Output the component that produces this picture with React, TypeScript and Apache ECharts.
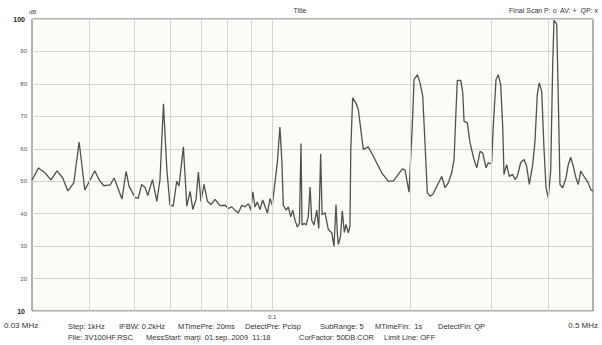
import React, { useEffect, useRef } from "react";
import * as echarts from "echarts";

const freqMHz = [
  0.03, 0.031, 0.032, 0.033, 0.034, 0.035, 0.0359, 0.037, 0.038, 0.0391,
  0.0411, 0.042, 0.043, 0.0444, 0.0453, 0.0471, 0.0481, 0.0488, 0.0503, 0.0511,
  0.052, 0.0529, 0.0536, 0.0549, 0.0561, 0.057, 0.058, 0.059, 0.0599, 0.0609,
  0.062, 0.0627, 0.0641, 0.0652, 0.0663, 0.0672, 0.0683, 0.0691, 0.07, 0.0711,
  0.0723, 0.0736, 0.0751, 0.077, 0.079, 0.0803, 0.0817, 0.083, 0.0844, 0.0859,
  0.0873, 0.0888, 0.0899, 0.0908, 0.0918, 0.0929, 0.0941, 0.0954, 0.0965, 0.0977,
  0.099, 0.1001, 0.1015, 0.1027, 0.104, 0.105, 0.1058, 0.1073, 0.1085, 0.1098,
  0.1109, 0.1122, 0.1135, 0.1147, 0.1156, 0.1162, 0.1176, 0.1186, 0.1199, 0.121,
  0.122, 0.1234, 0.1251, 0.1264, 0.1276, 0.1285, 0.1304, 0.1326, 0.1349, 0.1364,
  0.1378, 0.1387, 0.1394, 0.141, 0.1422, 0.1437, 0.1449, 0.1466, 0.1478, 0.1484,
  0.1498, 0.1523, 0.1541, 0.158, 0.162, 0.1662, 0.1733, 0.1791, 0.1837, 0.1883,
  0.1922, 0.1948, 0.1987, 0.202, 0.2038, 0.2072, 0.21, 0.2129, 0.2153, 0.2178,
  0.2208, 0.2238, 0.2276, 0.2314, 0.2342, 0.2381, 0.242, 0.2462, 0.2491, 0.2516,
  0.2532, 0.2576, 0.2602, 0.2619, 0.2662, 0.2699, 0.2753, 0.2791, 0.2838, 0.2876,
  0.2924, 0.2957, 0.2983, 0.3008, 0.3032, 0.3074, 0.311, 0.3147, 0.3179, 0.32,
  0.3243, 0.3286, 0.3342, 0.3381, 0.342, 0.3479, 0.3537, 0.3585, 0.3633, 0.3695,
  0.3738, 0.3781, 0.3819, 0.3866, 0.391, 0.395, 0.3996, 0.4044, 0.4085, 0.4111,
  0.4168, 0.4201, 0.4237, 0.4295, 0.4367, 0.4417, 0.4471, 0.4529, 0.4591, 0.4644,
  0.4701, 0.4803, 0.4883, 0.4942, 0.5,
];

const levelDb = [
  50.3, 54.1, 52.6, 50.4, 53.2, 51.0, 47.0, 49.5, 62.1, 47.3,
  53.2, 50.4, 48.6, 48.9, 51.0, 44.5, 53.0, 48.5, 45.0, 44.7,
  49.0, 48.1, 45.6, 50.5, 43.8, 50.5, 73.9, 53.6, 42.8, 42.3,
  50.0, 48.5, 60.6, 42.3, 46.9, 41.3, 44.4, 52.8, 43.8, 49.0,
  43.8, 42.8, 44.4, 42.5, 42.6, 41.6, 42.1, 41.1, 40.2, 42.6,
  42.1, 43.1, 41.1, 46.7, 42.1, 43.6, 41.3, 44.2, 42.3, 40.2,
  44.7, 42.6, 49.8, 55.9, 66.7, 56.5, 42.6, 41.1, 42.1, 39.0,
  41.1, 38.0, 35.9, 37.0, 61.6, 36.5, 37.0, 36.5, 39.0, 48.2,
  38.0, 36.5, 41.1, 35.4, 58.5, 39.7, 40.3, 35.1, 34.1, 30.0,
  42.8, 34.1, 30.5, 33.1, 40.8, 34.2, 36.7, 34.1, 36.2, 59.8,
  75.7, 74.1, 72.1, 59.8, 60.6, 57.7, 52.6, 50.0, 50.0, 52.1,
  53.8, 53.4, 46.6, 66.9, 81.3, 82.8, 80.3, 76.2, 61.8, 46.4,
  45.4, 45.9, 48.0, 50.0, 51.5, 48.0, 49.5, 52.6, 56.7, 72.1,
  81.1, 81.1, 77.2, 68.5, 68.0, 61.8, 56.7, 54.1, 59.2, 58.7,
  54.1, 55.7, 55.4, 55.7, 66.9, 81.3, 82.8, 79.8, 66.9, 52.1,
  55.1, 51.5, 52.1, 50.5, 51.5, 55.7, 56.7, 54.6, 49.0, 55.1,
  62.3, 76.7, 80.3, 77.7, 60.3, 48.0, 44.9, 53.1, 85.9, 99.6,
  98.4, 75.7, 49.0, 48.0, 51.0, 55.1, 57.4, 54.6, 51.0, 49.0,
  53.1, 51.0, 49.5, 47.4, 47.0,
];

const gridFreqs = [0.04, 0.05, 0.06, 0.07, 0.08, 0.09, 0.1, 0.2, 0.3, 0.4];

const headerTitle = "Title";
const headerLegend = "Final Scan P: o  AV: +  QP: x";
const unitLabel = "dB";
const xMinLabel = "0.03 MHz";
const xMaxLabel = "0.5 MHz";
const infoLine1 = [
  "Step: 1kHz",
  "IFBW: 0.2kHz",
  "MTimePre: 20ms",
  "DetectPre: Pcisp",
  "SubRange: 5",
  "MTimeFin:  1s",
  "DetectFin: QP",
];
const infoLine2 = [
  "File: 3V100HF.RSC",
  "MessStart: marţi  01.sep..2009  11:18",
  "CorFactor: 50DB.COR",
  "Limit Line: OFF",
];

const FONT = "'Liberation Sans', Arial, sans-serif";

export default function App() {
  const ref = useRef<HTMLDivElement>(null);
  useEffect(() => {
    const chart = echarts.init(ref.current!, null, { renderer: "svg" });
    const data = freqMHz.map((f, i) => [f, levelDb[i]]);
    const line1X = [68, 119, 178, 245, 320, 375, 438];
    const line2X = [68, 146, 299, 384];
    const txt = (text: string, x: number, y: number, size: number, align: string, color = "#333", weight = "normal") => ({
      type: "text",
      x,
      y,
      silent: true,
      style: { text, fontSize: size, fill: color, textAlign: align, textVerticalAlign: "middle", fontFamily: FONT, fontWeight: weight },
    });
    chart.setOption({
      animation: false,
      backgroundColor: "#ffffff",
      textStyle: { fontFamily: FONT },
      grid: {
        left: 32,
        right: 9,
        top: 19,
        bottom: 34,
        show: true,
        backgroundColor: "#fcfcf6",
        borderColor: "#666666",
        borderWidth: 1,
      },
      xAxis: {
        type: "log",
        logBase: 10,
        min: 0.03,
        max: 0.5,
        axisLine: { show: false },
        axisTick: { show: false },
        splitLine: { show: false },
        axisLabel: {
          formatter: (v: number) => (Math.abs(v - 0.1) < 1e-6 ? "0.1" : ""),
          fontSize: 6,
          color: "#444",
          margin: 3,
        },
      },
      yAxis: {
        type: "value",
        min: 10,
        max: 100,
        interval: 10,
        axisLine: { show: false },
        axisTick: { show: false },
        splitLine: { lineStyle: { color: "#d4d4d4", width: 1 } },
        axisLabel: {
          fontSize: 6,
          color: "#555",
          margin: 5,
          formatter: (v: number) => (v === 10 || v === 100 ? `{e|${v}}` : `${v}`),
          rich: { e: { fontSize: 7, fontWeight: "bold", color: "#222", padding: [0, 2, 0, 0] } },
        },
      },
      series: [
        {
          type: "line",
          data: gridFreqs.map((f) => [f, 10]),
          symbol: "none",
          lineStyle: { opacity: 0 },
          silent: true,
          z: 1,
          markLine: {
            silent: true,
            symbol: ["none", "none"],
            label: { show: false },
            lineStyle: { color: "#d4d4d4", type: "solid", width: 1 },
            data: gridFreqs.map((f) => ({ xAxis: f })),
          },
        },
        {
          type: "line",
          data,
          symbol: "none",
          lineStyle: { color: "#505050", width: 1.3 },
          z: 3,
        },
      ],
      graphic: [
        txt(unitLabel, 29, 12, 6, "left", "#444"),
        txt(headerTitle, 300, 10, 7, "center", "#333"),
        txt(headerLegend, 598, 10, 7, "right", "#333"),
        txt(xMinLabel, 4, 325, 8, "left", "#333"),
        txt(xMaxLabel, 598, 325, 8, "right", "#333"),
        ...infoLine1.map((t, i) => txt(t, line1X[i], 326, 7.5, "left", "#333")),
        ...infoLine2.map((t, i) => txt(t, line2X[i], 337, 7.5, "left", "#333")),
      ],
    });
    return () => chart.dispose();
  }, []);
  return <div ref={ref} style={{ position: "absolute", left: 0, top: 0, width: 602, height: 345 }} />;
}
